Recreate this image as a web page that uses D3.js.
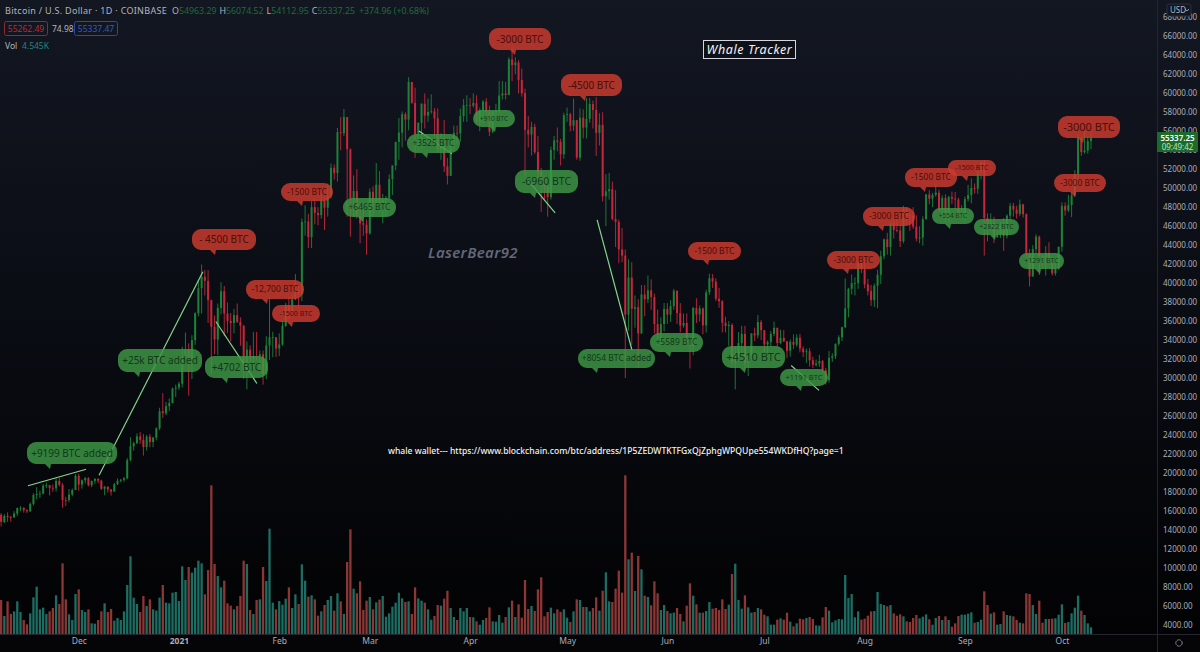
<!DOCTYPE html>
<html>
<head>
<meta charset="utf-8">
<script src="https://cdnjs.cloudflare.com/ajax/libs/d3/7.8.5/d3.min.js"></script>
<style>
	html, body { margin: 0; padding: 0; background: #020203; overflow: hidden; }
	svg { display: block; }
	text { font-family: "Noto Sans", sans-serif; }
	.priceAxis text { fill: #a9adb8; font-size: 8px; }
	.timeAxis text { fill: #a9adb8; font-size: 8.5px; }
	.timeAxis .domain, .priceAxis .domain { display: none; }
</style>
</head>
<body>
<svg id="chart" width="1200" height="652"></svg>
<script>
// daily candles, 7 Nov 2020 to 10 Oct 2021 (one line per month)
var opens = [
	15580,14830,15470,15330,15300,15710,16290,16330,16070,15960,16730,17660,17780,17820,18660,18710,18420,18370,19160,18730,17150,17140,17720,18190,
	19700,18770,19220,19440,18700,19160,19380,19180,18320,18550,18250,18030,18810,19170,19280,19440,21350,22800,23120,23850,23480,22730,23820,23250,23720,24700,26490,26280,27030,27360,28880,
	28990,29400,32200,33000,31990,33990,36820,39480,40670,40240,38200,35400,34050,37390,39150,36800,36020,35800,36630,35910,35500,30830,33000,32090,32260,32250,32500,30400,33430,34290,34300,
	33110,33530,35500,37670,36990,38290,39250,38830,46450,46500,44850,48000,47400,47170,48700,47950,49150,52150,51600,55900,55800,57500,54100,48890,49700,47050,46300,46150,
	45240,49620,48400,50370,48370,48760,48900,50970,52390,54880,55860,57800,57230,61190,59000,55650,56900,58900,57650,58030,58100,57370,54100,54350,52300,51300,55050,55840,55780,57600,58750,
	58780,58700,58970,57060,58200,59130,58020,55950,58080,58120,59770,59990,59830,63580,62970,63250,61400,60010,56150,55660,56470,53800,51700,51150,50100,49060,54030,55040,54880,53570,
	57700,57800,56580,57170,53220,57440,56390,57310,58870,58240,55840,56670,49150,49680,49900,46760,46450,43550,42900,36690,40590,37300,37470,34700,38800,38300,39240,38530,35680,34610,35680,
	37280,36680,37570,39190,36840,35520,35800,33570,33370,37380,36690,37330,35550,39020,40520,40160,38350,38090,35820,35480,35600,31620,32510,33680,34650,31590,32280,34700,34490,35900,
	35040,33530,33800,34650,35290,33690,34220,33860,32870,33810,33510,34250,33100,32720,32820,31870,31380,31520,31780,30820,29790,32130,32290,33600,34280,35350,37340,39400,40000,40020,42200,
	41460,39860,39150,38200,39720,40880,42830,44610,43800,46280,45600,45560,44420,47830,47130,47080,45950,44700,44800,46730,49340,48900,49300,49530,47700,48970,46850,49080,48900,48810,46990,
	47150,48850,49280,50030,49940,51790,52690,46860,46070,46400,44850,45160,46060,44950,47110,48140,47750,47300,48300,47250,43000,40700,43570,44900,42840,42700,43180,42170,41030,41520,
	43820,48140,47660,48230,49250,51500,55340,53800,53970,54963.29
];
var highs = [
	15770,15650,15840,15480,15960,16340,16480,16350,16150,16880,17850,18490,18110,18820,18960,18700,18770,19420,19480,18930,17470,18300,18350,19860,
	19920,19310,19570,19540,19180,19420,19400,19290,18630,18560,18290,18950,19410,19350,19560,21560,23770,23290,24170,24300,24100,24000,24100,23800,24800,26860,28400,27480,27850,28990,29300,
	29600,33300,34780,33650,34500,36930,40350,41950,41380,41370,38260,36600,37850,40100,39700,37950,36850,37300,37850,36400,35600,33850,33450,34850,34850,32900,32900,34400,38500,34880,34300,
	34700,35980,37900,38600,38800,40950,39700,46800,48200,47300,48650,48900,48000,49650,49000,50500,52600,52500,56350,57500,58350,57500,54200,51350,52000,48350,48350,46700,
	50000,50200,52650,51800,49400,49200,51450,52400,54900,57400,58100,58000,61700,61200,60600,56950,58950,60000,59450,59900,58450,58400,55800,57200,53200,55100,56600,56600,58400,59400,59800,
	59500,60000,59800,58500,59300,59500,58700,58200,58900,61300,61300,61200,63800,64900,63800,63500,62600,60500,57600,57000,56800,55500,52150,51300,50600,54400,55500,56400,55200,57950,
	58500,57950,59450,57200,58400,58300,59500,59500,59250,59600,57900,58000,51500,51600,50700,49800,46700,45800,43550,42500,42200,38700,38300,39800,39800,40800,40400,38900,37200,36400,37900,
	37900,38200,39400,39250,37900,36800,36800,34000,37500,38400,37650,37450,39300,41000,40950,40500,39500,38200,36450,36000,35750,33300,34850,35500,35500,32700,34700,35300,36650,36100,
	35050,33950,34950,35950,35300,35100,35050,33900,34050,34600,34600,34650,33330,33100,33150,32250,31950,32450,31900,31050,32850,32600,33650,34500,35400,40500,39500,40900,40600,42300,42400,
	42600,40450,39800,39950,41400,43400,44700,45300,46450,46700,46800,46200,48150,48000,47400,48000,47150,46000,47050,49400,49800,49500,50500,49850,49250,49350,49200,49650,49600,49000,48200,
	49100,50350,51050,50500,51900,52800,52950,47350,47350,47000,45950,46450,46850,47250,48450,48450,48150,48800,48350,47350,43600,44000,45150,45000,42950,43900,44300,42800,42600,43850,
	48500,48500,49300,49500,51900,55750,55350,56100,55500,56074.52
];
var lows = [
	14350,14720,14830,14850,15290,15460,15980,15800,15780,15880,16560,17210,17350,17750,18410,17620,18000,18040,18570,16330,16500,16900,17540,18190,
	18120,18340,18870,18570,18500,18860,18910,18200,17650,17920,17610,18030,18720,19000,19050,19300,21230,22350,23070,23080,21820,22360,22700,22700,23420,24500,25800,26090,26520,27330,28000,
	28730,29000,32000,28130,29900,33500,36500,36800,38700,35800,30400,32500,32400,36700,34400,34750,33850,34700,35800,33400,29900,28800,31400,30900,31900,30800,29300,29900,31900,32200,32200,
	32300,33400,35400,36200,36600,38200,37400,38100,45000,43700,43700,46200,46100,46800,45600,47000,48950,50900,50700,54000,55500,47000,44900,47000,46800,44200,45000,43000,
	45100,47000,48100,47500,46300,47100,48900,49300,51900,53000,54300,55000,56100,58900,53200,53900,54100,56300,57000,57850,55500,53700,53000,51700,50400,51300,53950,54700,54900,57000,57000,
	57800,58500,56900,56000,56800,57350,55500,55800,57700,57900,59350,59350,59800,61300,62000,60000,59650,51300,54300,53450,53600,50500,47500,48800,47000,48800,53000,53900,52400,53100,
	57000,56000,56050,53000,52900,55250,55250,56900,56300,53400,54500,48600,46000,48800,46600,43800,42100,42200,30000,35000,33500,35300,31100,34650,36500,37900,37200,34700,33400,33400,34900,
	35700,35900,37200,35700,34800,35300,33400,31000,32400,35800,35950,34600,34800,38750,39500,38100,37400,34800,34800,33400,31300,28800,31700,32300,30900,30200,32000,33900,34200,34000,
	32700,32700,33300,34400,33150,33550,33800,32100,32250,33050,33300,32700,32200,31600,31200,31050,31200,31150,30500,29300,29500,31700,32000,33400,33900,35250,36400,38800,38700,39400,41050,
	39450,38700,37600,37500,37350,39900,42500,43000,42900,44700,45350,43800,44200,46100,45500,45700,44400,44200,43950,46700,48300,48000,49100,47600,47150,46400,46400,48300,47800,46900,46800,
	46500,48600,48400,49450,49400,50950,42900,44400,45500,44200,44750,44750,43400,44700,46750,47000,46800,47050,46900,42500,39650,40700,43100,40850,41700,40800,42100,40800,40800,41400,
	43300,47100,47500,46950,49100,50400,53400,53650,53650,54112.95
];
var closes = [
	14830,15470,15330,15300,15710,16290,16330,16070,15960,16730,17660,17780,17820,18660,18710,18420,18370,19160,18730,17150,17140,17720,18190,19700,
	18770,19220,19440,18700,19160,19380,19180,18320,18550,18250,18030,18810,19170,19280,19440,21350,22800,23120,23850,23480,22730,23820,23250,23720,24700,26490,26280,27030,27360,28880,28990,
	29400,32200,33000,31990,33990,36820,39480,40670,40240,38200,35400,34050,37390,39150,36800,36020,35800,36630,35910,35500,30830,33000,32090,32260,32250,32500,30400,33430,34290,34300,33110,
	33530,35500,37670,36990,38290,39250,38830,46450,46500,44850,48000,47400,47170,48700,47950,49150,52150,51600,55900,55800,57500,54100,48890,49700,47050,46300,46150,45240,
	49620,48400,50370,48370,48760,48900,50970,52390,54880,55860,57800,57230,61190,59000,55650,56900,58900,57650,58030,58100,57370,54100,54350,52300,51300,55050,55840,55780,57600,58750,58780,
	58700,58970,57060,58200,59130,58020,55950,58080,58120,59770,59990,59830,63580,62970,63250,61400,60010,56150,55660,56470,53800,51700,51150,50100,49060,54030,55040,54880,53570,57700,
	57800,56580,57170,53220,57440,56390,57310,58870,58240,55840,56670,49150,49680,49900,46760,46450,43550,42900,36690,40590,37300,37470,34700,38800,38300,39240,38530,35680,34610,35680,37280,
	36680,37570,39190,36840,35520,35800,33570,33370,37380,36690,37330,35550,39020,40520,40160,38350,38090,35820,35480,35600,31620,32510,33680,34650,31590,32280,34700,34490,35900,35040,
	33530,33800,34650,35290,33690,34220,33860,32870,33810,33510,34250,33100,32720,32820,31870,31380,31520,31780,30820,29790,32130,32290,33600,34280,35350,37340,39400,40000,40020,42200,41460,
	39860,39150,38200,39720,40880,42830,44610,43800,46280,45600,45560,44420,47830,47130,47080,45950,44700,44800,46730,49340,48900,49300,49530,47700,48970,46850,49080,48900,48810,46990,47150,
	48850,49280,50030,49940,51790,52690,46860,46070,46400,44850,45160,46060,44950,47110,48140,47750,47300,48300,47250,43000,40700,43570,44900,42840,42700,43180,42170,41030,41520,43820,
	48140,47660,48230,49250,51500,55340,53800,53970,54960,55337.25
];
// volume pane has no axis of its own, so these are bar heights as read (1 unit is about 210 BTC)
var volumes = [
	102,54,98,60,68,98,66,42,29,62,110,142,74,79,60,68,78,116,90,212,104,59,42,120,134,72,66,74,32,31,42,68,92,66,75,40,48,42,68,147,233,109,90,66,114,84,104,74,70,109,147,94,92,124,126,99,203,162,201,184,199,220,212,119,192,446,210,174,140,160,92,85,74,84,114,220,210,72,60,102,104,201,159,316,94,74,99,88,106,140,78,119,90,209,160,112,116,104,55,68,87,102,114,70,122,98,60,216,314,136,122,158,72,100,111,74,95,103,114,52,62,82,94,124,
	107,96,98,60,140,107,100,94,74,43,54,87,85,106,130,78,51,42,78,68,78,51,50,38,28,42,48,80,38,37,57,34,51,80,100,51,89,49,162,75,84,69,134,170,53,66,79,62,74,66,74,49,36,68,104,102,81,81,68,78,110,70,130,185,98,96,136,190,124,476,224,244,129,234,194,115,111,86,158,122,72,87,69,62,64,78,60,38,85,152,115,89,64,64,69,96,76,78,72,104,75,88,180,211,102,76,116,80,64,66,78,74,58,53,28,28,43,47,43,64,37,23,32,46,
	44,48,51,45,26,25,50,81,70,35,41,45,44,177,108,120,50,68,43,46,55,68,69,126,90,87,83,87,62,55,59,53,38,36,48,57,47,52,59,44,28,48,54,42,53,42,22,32,54,58,58,61,65,34,36,43,128,87,61,65,28,30,68,57,55,53,42,34,32,122,120,87,60,100,34,45,45,46,47,58,89,33,36,62,79,115,70,57,32,20
];
var monthTicks = [24,55,86,114,145,175,206,236,267,298,328];
var monthLabels = ["Dec","2021","Feb","Mar","Apr","May","Jun","Jul","Aug","Sep","Oct"];
var priceTicks = d3.range(4000, 68001, 2000);

// whale trend lines: [day, price, day, price]
var trendLines = [
	[8.3,18640,26.3,20380],
	[30.3,19750,62.4,41200],
	[66.4,35950,79.1,29420],
	[129.2,56040,139.4,53620],
	[162.3,51090,171.3,47410],
	[184.3,46670,195.1,32900],
	[244.3,31320,252.9,28690]
];
var calloutTexts = ["+9199 BTC added","+25k BTC added","+4702 BTC","- 4500 BTC","-12,700 BTC","-1500 BTC","-1500 BTC","+6465 BTC","+3525 BTC","+910 BTC","-3000 BTC","-4500 BTC","-6960 BTC","+8054 BTC added","+5589 BTC","+4510 BTC","+1191 BTC","-1500 BTC","-3000 BTC","-3000 BTC","-1500 BTC","-1500 BTC","+554 BTC","+2822 BTC","+1291 BTC","-3000 BTC","-3000 BTC"];

// callout boxes on the picture: x, y, w, h, tail x, font size
var calloutBoxes = [
	[27,442,90,22,45,10],[118,349,84,23,134,10],[205,356,63,22,222,10],[192,229,64,21,210,10],[246,280,58,19,262,8.5],[272,305,48,17,287,7],
	[281,183,52,18,297,8.5],[343,198,53,19,358,8.5],[407,134,53,19,422,8.5],[473,110,42,17,490,6.5],[489,28,62,22,510,10],[561,74,61,22,580,10],
	[515,170,63,23,530,10.5],[578,349,77,19,592,8.5],[650,333,53,19,665,8.5],[722,346,63,22,740,11],[780,369,48,17,796,7.5],[688,242,53,18,703,8.5],
	[827,251,53,18,843,8.5],[863,207,52,19,878,8.5],[905,168,52,19,920,8.5],[948,160,48,16,962,7],[932,208,42,16,945,6.5],[974,219,45,16,990,7],
	[1019,253,45,16,1035,7],[1054,174,52,18,1070,8.5],[1058,116,62,22,1078,11]
];
var red = "#c4283a", green = "#1c8238", volRed = "#8c3636", volTeal = "#1d6d62";

var svg = d3.select("#chart");
var grad = svg.append("defs").append("linearGradient").attr("id", "bg").attr("x1", 0).attr("x2", 0).attr("y1", 0).attr("y2", 1);
grad.append("stop").attr("offset", 0).attr("stop-color", "#131722");
grad.append("stop").attr("offset", 0.5).attr("stop-color", "#0a0c13");
grad.append("stop").attr("offset", 1).attr("stop-color", "#020203");
svg.append("rect").attr("width", 1200).attr("height", 652).attr("fill", "url(#bg)");

var x = d3.scaleLinear().domain([0, 337]).range([1.1, 1091]);
var y = d3.scaleLinear().domain([4000, 66000]).range([624.7, 36.4]);
var yVol = d3.scaleLinear().domain([0, 476]).range([634, 475.3]);
var days = d3.range(closes.length);

// volume first, candles sit on top of it
svg.append("g").selectAll("rect").data(days).join("rect")
	.attr("x", function(d) { return x(d) - 1.15; })
	.attr("width", 2.3)
	.attr("y", function(d) { return yVol(volumes[d]); })
	.attr("height", function(d) { return yVol(0) - yVol(volumes[d]); })
	.attr("fill", function(d) { return closes[d] >= opens[d] ? volTeal : volRed; });

var candle = svg.append("g").selectAll("g").data(days).join("g");
candle.append("line")
	.attr("x1", function(d) { return x(d); })
	.attr("x2", function(d) { return x(d); })
	.attr("y1", function(d) { return y(highs[d]); })
	.attr("y2", function(d) { return y(lows[d]); })
	.attr("stroke-width", 0.9)
	.attr("stroke", function(d) { return closes[d] >= opens[d] ? green : red; });
candle.append("rect")
	.attr("x", function(d) { return x(d) - 1; })
	.attr("width", 2)
	.attr("y", function(d) { return y(Math.max(opens[d], closes[d])); })
	.attr("height", function(d) { return Math.max(0.8, Math.abs(y(opens[d]) - y(closes[d]))); })
	.attr("fill", function(d) { return closes[d] >= opens[d] ? green : red; });

// axes
svg.append("rect").attr("x", 0).attr("y", 634).attr("width", 1200).attr("height", 18).attr("fill", "#050508");
svg.append("line").attr("x1", 0).attr("x2", 1200).attr("y1", 634.5).attr("y2", 634.5).attr("stroke", "#23262f");
svg.append("line").attr("x1", 1157.5).attr("x2", 1157.5).attr("y1", 0).attr("y2", 652).attr("stroke", "#23262f");

svg.append("g").attr("class", "priceAxis").attr("transform", "translate(1159,0)")
	.call(d3.axisRight(y).tickValues(priceTicks).tickSize(0).tickPadding(4).tickFormat(d3.format(".2f")));
var timeAxis = svg.append("g").attr("class", "timeAxis").attr("transform", "translate(0,634)")
	.call(d3.axisBottom(x).tickValues(monthTicks).tickSize(0).tickPadding(4).tickFormat(function(d, i) { return monthLabels[i]; }));
timeAxis.selectAll("text").filter(function(d, i) { return monthLabels[i] == "2021"; })
	.attr("fill", "#d8dae0").style("font-weight", "bold");

// USD button
svg.append("rect").attr("x", 1167).attr("y", 4).attr("width", 24).attr("height", 12).attr("rx", 2).attr("fill", "#131722").attr("stroke", "#2a2e39");
svg.append("text").attr("x", 1170).attr("y", 13).attr("fill", "#b2b5be").attr("font-size", 8).text("USD");
svg.append("path").attr("d", "M1185 9l2 2 2-2").attr("fill", "none").attr("stroke", "#b2b5be").attr("stroke-width", 0.8);

// last price tag
svg.append("rect").attr("x", 1157).attr("y", 132).attr("width", 41).attr("height", 20).attr("fill", "#1c6b2a");
svg.append("text").attr("x", 1177.5).attr("y", 140.5).attr("text-anchor", "middle").attr("fill", "#ffffff").attr("font-size", 8).attr("font-weight", 600).text("55337.25");
svg.append("text").attr("x", 1177.5).attr("y", 149.5).attr("text-anchor", "middle").attr("fill", "#bfe0c4").attr("font-size", 8).text("09:49:42");

// gear at the corner
svg.append("circle").attr("cx", 1179).attr("cy", 643).attr("r", 3.2).attr("fill", "none").attr("stroke", "#9a9da6").attr("stroke-width", 0.9).attr("stroke-dasharray", "2 0.5");

// trend lines
svg.append("g").selectAll("line").data(trendLines).join("line")
	.attr("x1", function(d) { return x(d[0]); })
	.attr("y1", function(d) { return y(d[1]); })
	.attr("x2", function(d) { return x(d[2]); })
	.attr("y2", function(d) { return y(d[3]); })
	.attr("stroke", "#83d78a").attr("stroke-width", 1.2);

// speech bubbles
function bubblePath(b) {
	var bx = b[0], by = b[1], w = b[2], h = b[3], tail = b[4], r = Math.min(9, h / 2), p = d3.path();
	p.moveTo(bx + r, by);
	p.arcTo(bx + w, by, bx + w, by + h, r);
	p.arcTo(bx + w, by + h, bx, by + h, r);
	p.lineTo(tail + 6, by + h);
	p.lineTo(tail + 5, by + h + 5);
	p.lineTo(tail, by + h);
	p.arcTo(bx, by + h, bx, by, r);
	p.arcTo(bx, by, bx + w, by, r);
	p.closePath();
	return p.toString();
}
function isLoss(i) { return calloutTexts[i].charAt(0) == "-"; }
var greenCalls = [12]; // the -6960 one was drawn in green on the original
var bubbles = svg.append("g").selectAll("g").data(calloutBoxes).join("g");
bubbles.append("path")
	.attr("d", bubblePath)
	.attr("fill", function(d, i) { return isLoss(i) && greenCalls.indexOf(i) < 0 ? "#cb3a2e" : "#3e9645"; })
	.attr("fill-opacity", 0.84);
bubbles.append("text")
	.attr("x", function(d) { return d[0] + d[2] / 2; })
	.attr("y", function(d) { return d[1] + d[3] / 2 + d[5] * 0.35; })
	.attr("text-anchor", "middle")
	.attr("font-size", function(d) { return d[5]; })
	.attr("fill", function(d, i) { return isLoss(i) && greenCalls.indexOf(i) < 0 ? "#4d0d08" : "#12381a"; })
	.text(function(d, i) { return calloutTexts[i]; });

// free text on the chart
svg.append("rect").attr("x", 703.5).attr("y", 40.5).attr("width", 92).attr("height", 18).attr("fill", "#0e111a").attr("stroke", "#d5d7dc");
svg.append("text").attr("x", 749.5).attr("y", 53.5).attr("text-anchor", "middle").attr("fill", "#f2f3f5").attr("font-size", 12.5).attr("font-style", "italic").attr("letter-spacing", 0.6).text("Whale Tracker");
svg.append("text").attr("x", 428).attr("y", 258).attr("fill", "#62677a").attr("font-size", 15).attr("font-style", "italic").attr("font-weight", 600).attr("letter-spacing", 0.35).text("LaserBear92");
svg.append("text").attr("x", 388).attr("y", 454).attr("fill", "#f0f0f2").attr("font-size", 8.6).attr("font-weight", 500).text("whale wallet--- https://www.blockchain.com/btc/address/1P5ZEDWTKTFGxQjZphgWPQUpe554WKDfHQ?page=1");

// header legend
var head = svg.append("text").attr("x", 5).attr("y", 14).attr("font-size", 8.8);
head.append("tspan").attr("fill", "#b2b5be").attr("font-size", 9).attr("letter-spacing", 0.3).text("Bitcoin / U.S. Dollar · 1D · COINBASE");
["O", "54963.29", "H", "56074.52", "L", "54112.95", "C", "55337.25", "+374.96 (+0.68%)"].forEach(function(t, i) {
	var isLabel = i % 2 == 0 && i < 8;
	head.append("tspan").attr("dx", isLabel ? (i == 0 ? 5 : 3) : (i == 8 ? 4 : 0))
		.attr("fill", isLabel ? "#b2b5be" : "#1f6b3a").text(t);
});
svg.append("rect").attr("x", 4.5).attr("y", 21.5).attr("width", 43).attr("height", 14).attr("rx", 2).attr("fill", "none").attr("stroke", "#8d2a33");
svg.append("text").attr("x", 26).attr("y", 31.5).attr("text-anchor", "middle").attr("fill", "#b52f3a").attr("font-size", 8.5).text("55262.49");
svg.append("text").attr("x", 52).attr("y", 31.5).attr("fill", "#b2b5be").attr("font-size", 8.5).text("74.98");
svg.append("rect").attr("x", 74.5).attr("y", 21.5).attr("width", 43).attr("height", 14).attr("rx", 2).attr("fill", "none").attr("stroke", "#2a4a9e");
svg.append("text").attr("x", 96).attr("y", 31.5).attr("text-anchor", "middle").attr("fill", "#2f5cc2").attr("font-size", 8.5).text("55337.47");
svg.append("text").attr("x", 5).attr("y", 49).attr("fill", "#b2b5be").attr("font-size", 8.5).text("Vol");
svg.append("text").attr("x", 22).attr("y", 49).attr("fill", "#22857a").attr("font-size", 8.5).text("4.545K");
</script>
</body>
</html>
